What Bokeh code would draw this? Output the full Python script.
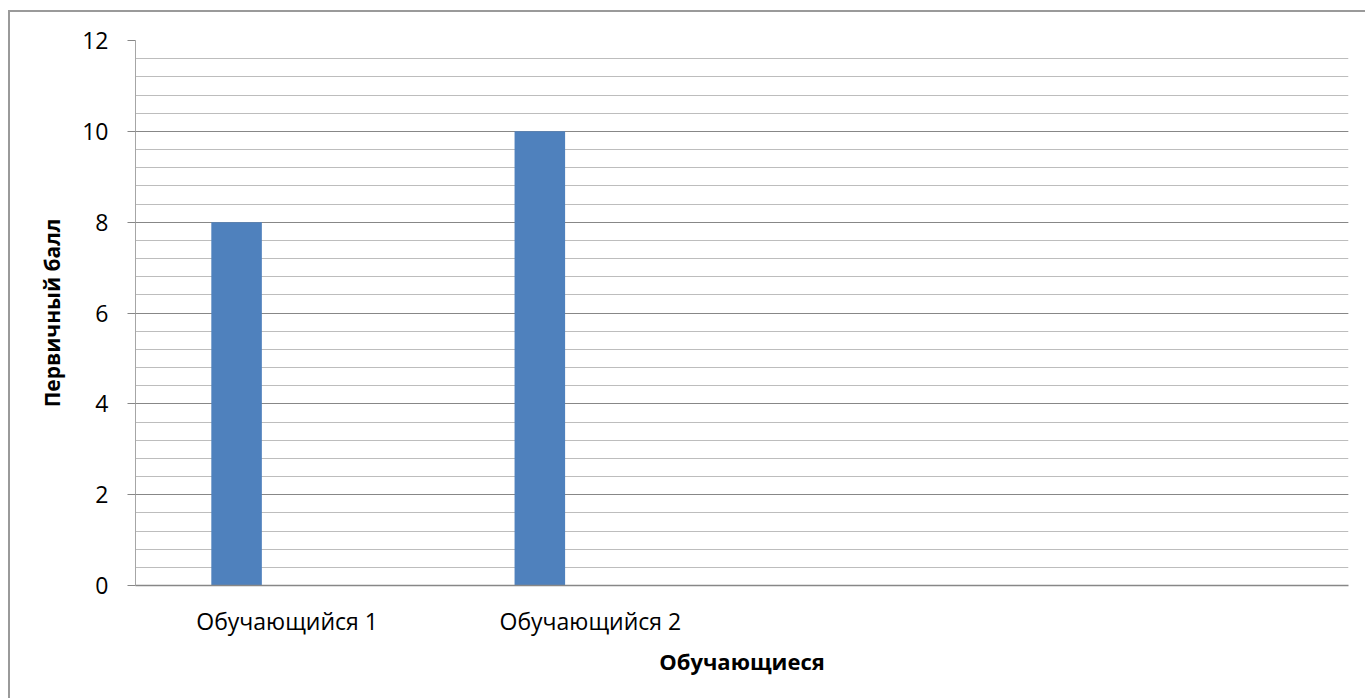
from bokeh.plotting import figure
from bokeh.models import ColumnDataSource, FactorRange, Range1d, SingleIntervalTicker
from bokeh.transform import dodge
from bokeh.embed import file_html
from bokeh.resources import INLINE

# Categories on the x axis (the last two slots are unlabeled)
students = ["Обучающийся 1", "Обучающийся 2", " ", "  "]
# Primary score per student (None = no value)
primary_score = [8, 10, None, None]

x_title = "Обучающиеся"
y_title = "Первичный балл"

# three series slots per category, only the first one carries data
series_slots = 3
slot_width = 1 / (2 * series_slots)
first_offset = -slot_width

rows = [(s, v) for s, v in zip(students, primary_score) if v is not None]
src = ColumnDataSource(dict(student=[r[0] for r in rows],
                            score=[r[1] for r in rows]))

FONT = "Open Sans"
AXIS_GRAY = "#878787"

p = figure(
    x_range=FactorRange(factors=students, range_padding=0),
    y_range=Range1d(0, 12),
    width=1357, height=688,
    output_backend="svg", toolbar_location=None,
    min_border_left=125, min_border_right=19,
    min_border_top=28, min_border_bottom=115,
)
# chart-area border: offset from the page corner, open to the right/bottom
p.margin = (10, 0, 0, 8)
p.styles = {"border-left": "2px solid #9a9a9a", "border-top": "2px solid #9a9a9a"}

p.outline_line_color = None
p.background_fill_color = "white"
p.border_fill_color = "white"

p.vbar(x=dodge("student", first_offset, range=p.x_range), top="score",
       width=slot_width, source=src, fill_color="#4f81bd", line_color=None)

# y axis: major every 2, minor gridlines every 0.4
ticker = SingleIntervalTicker(interval=2, num_minor_ticks=5)
p.yaxis.ticker = ticker
p.ygrid.ticker = ticker
p.ygrid.grid_line_color = AXIS_GRAY
p.ygrid.minor_grid_line_color = "#bdbdbd"
p.xgrid.grid_line_color = None

p.yaxis.axis_line_color = "#a6a6a6"
p.yaxis.major_tick_line_color = AXIS_GRAY
p.yaxis.major_tick_out = 8
p.yaxis.major_tick_in = 0
p.yaxis.minor_tick_out = 0
p.yaxis.minor_tick_in = 0
p.yaxis.major_label_standoff = 19
p.yaxis.axis_label = y_title
p.yaxis.axis_label_standoff = 13

p.xaxis.axis_line_color = AXIS_GRAY
p.xaxis.axis_line_width = 1.5
p.xaxis.major_tick_out = 0
p.xaxis.major_tick_in = 0
p.xaxis.minor_tick_out = 0
p.xaxis.major_label_standoff = 19
p.xaxis.axis_label = x_title
p.xaxis.axis_label_standoff = 6

for ax in (p.xaxis, p.yaxis):
    ax.major_label_text_font = FONT
    ax.major_label_text_font_size = "23px"
    ax.major_label_text_color = "black"
    ax.axis_label_text_font = FONT
    ax.axis_label_text_font_style = "bold"
    ax.axis_label_text_color = "black"
p.xaxis.axis_label_text_font_size = "22px"
p.yaxis.axis_label_text_font_size = "21px"

open("out.html", "w").write(file_html(p, INLINE))
